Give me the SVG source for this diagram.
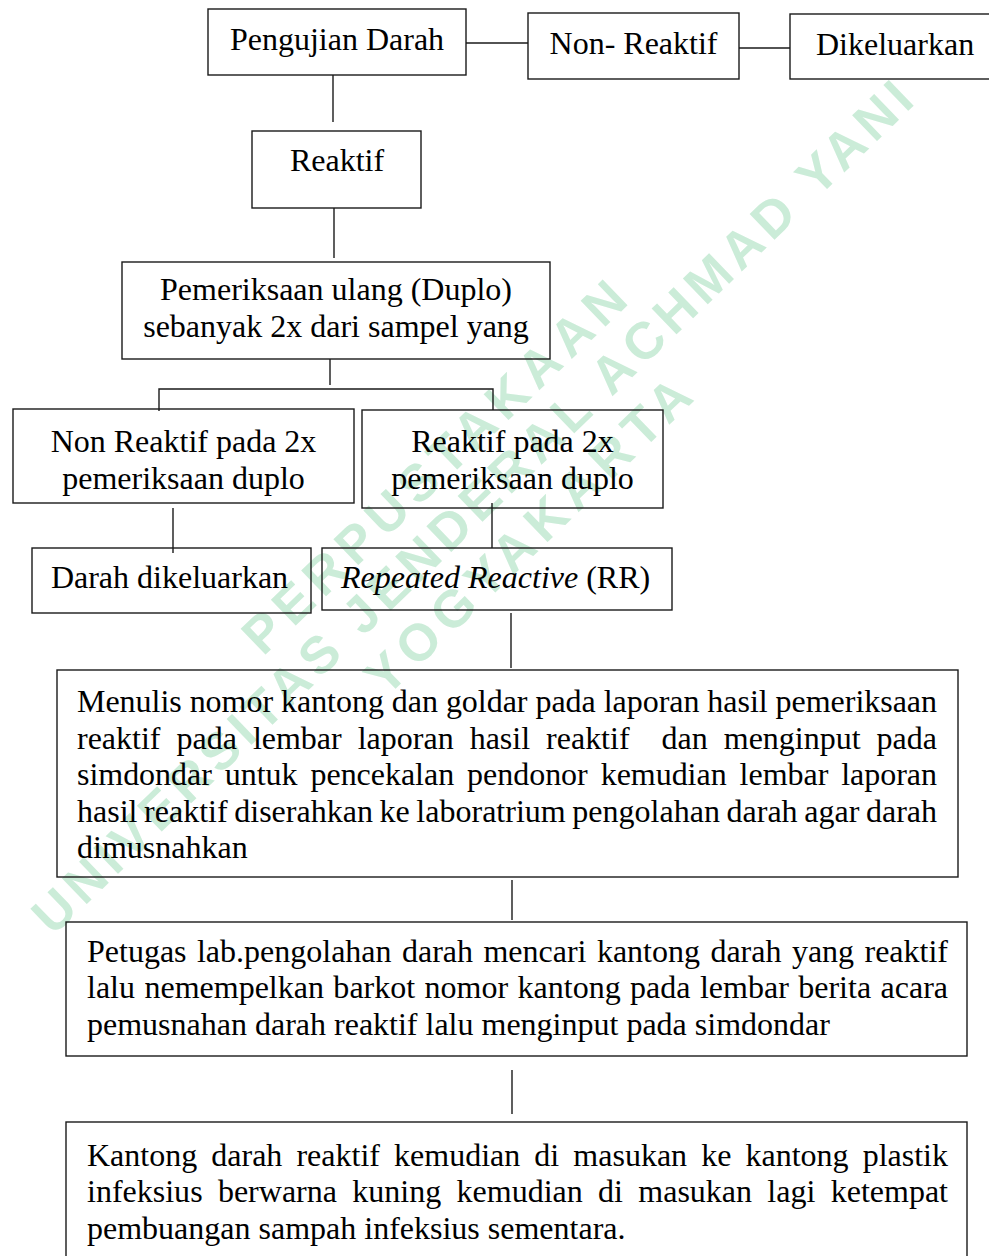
<svg xmlns="http://www.w3.org/2000/svg" width="989" height="1256" viewBox="0 0 989 1256">
<style>
.box{fill:none;stroke:#1a1a1a;stroke-width:1.4}
.t{font-family:"Liberation Serif","Times New Roman",serif;font-size:32px;fill:#000}
.c{text-anchor:middle}
.conn line,.conn polyline{stroke:#1a1a1a;stroke-width:1.4;fill:none}
.wm{font-family:"Liberation Sans",Arial,sans-serif;font-weight:bold;font-size:52px;fill:#cbecd8;text-anchor:middle}
</style>
<rect width="989" height="1256" fill="#fff"/>
<g id="watermark">
<text class="wm" x="434" y="485" transform="rotate(-44 434 467)" textLength="510">PERPUSTAKAAN</text>
<text class="wm" x="472" y="525" transform="rotate(-44 472 507)" textLength="1200">UNIVERSITAS JENDERAL ACHMAD YANI</text>
<text class="wm" x="528" y="554" transform="rotate(-44 528 536)" textLength="430">YOGYAKARTA</text>
</g>
<g id="connectors" class="conn">
<line x1="466" y1="43" x2="528" y2="43"/>
<line x1="739" y1="48" x2="790" y2="48"/>
<line x1="333" y1="75" x2="333" y2="122"/>
<line x1="334" y1="208" x2="334" y2="258"/>
<line x1="330" y1="359" x2="330" y2="385"/>
<polyline points="159,411 159,389 493,389 493,410"/>
<line x1="173" y1="508" x2="173" y2="553"/>
<line x1="492" y1="503" x2="492" y2="548"/>
<line x1="511" y1="613" x2="511" y2="668"/>
<line x1="512" y1="880" x2="512" y2="920"/>
<line x1="512" y1="1070" x2="512" y2="1114"/>
</g>
<g id="n1"><rect class="box" x="208" y="9" width="258" height="66"/><text class="t c" x="337" y="50">Pengujian Darah</text></g>
<g id="n2"><rect class="box" x="528" y="13" width="211" height="66"/><text class="t c" x="633.5" y="54">Non- Reaktif</text></g>
<g id="n3"><rect class="box" x="790" y="14" width="220" height="65"/><text class="t" x="816" y="55">Dikeluarkan</text></g>
<g id="n4"><rect class="box" x="252" y="131" width="169" height="77"/><text class="t c" x="337" y="171">Reaktif</text></g>
<g id="n5"><rect class="box" x="122" y="262" width="428" height="97"/><text class="t c" x="336" y="300">Pemeriksaan ulang (Duplo)</text><text class="t c" x="336" y="337">sebanyak 2x dari sampel yang</text></g>
<g id="n6"><rect class="box" x="13" y="409" width="341" height="94"/><text class="t c" x="183.5" y="452">Non Reaktif pada 2x</text><text class="t c" x="183.5" y="489">pemeriksaan duplo</text></g>
<g id="n7"><rect class="box" x="362" y="410" width="301" height="98"/><text class="t c" x="512.5" y="452">Reaktif pada 2x</text><text class="t c" x="512.5" y="489">pemeriksaan duplo</text></g>
<g id="n8"><rect class="box" x="32" y="548" width="279" height="65"/><text class="t c" x="169.5" y="588">Darah dikeluarkan</text></g>
<g id="n9"><rect class="box" x="322" y="548" width="350" height="62"/><text class="t" x="341" y="588"><tspan font-style="italic">Repeated Reactive</tspan> (RR)</text></g>
<g id="n10"><rect class="box" x="57" y="670" width="901" height="207"/>
<text class="t" x="77" y="712" textLength="860">Menulis nomor kantong dan goldar pada laporan hasil pemeriksaan</text>
<text class="t" x="77" y="748.5" word-spacing="8" textLength="860">reaktif pada lembar laporan hasil reaktif&#160; dan menginput pada</text>
<text class="t" x="77" y="785" word-spacing="5" textLength="860">simdondar untuk pencekalan pendonor kemudian lembar laporan</text>
<text class="t" x="77" y="821.5" word-spacing="-1.4" textLength="860">hasil reaktif diserahkan ke laboratrium pengolahan darah agar darah</text>
<text class="t" x="77" y="858">dimusnahkan</text>
</g>
<g id="n11"><rect class="box" x="66" y="922" width="901" height="134"/>
<text class="t" x="87" y="962" word-spacing="2.4" textLength="861">Petugas lab.pengolahan darah mencari kantong darah yang reaktif</text>
<text class="t" x="87" y="998" word-spacing="1.4" textLength="861">lalu nemempelkan barkot nomor kantong pada lembar berita acara</text>
<text class="t" x="87" y="1035">pemusnahan darah reaktif lalu menginput pada simdondar</text>
</g>
<g id="n12"><rect class="box" x="66" y="1122" width="901" height="200"/>
<text class="t" x="87" y="1166" word-spacing="6.1" textLength="861">Kantong darah reaktif kemudian di masukan ke kantong plastik</text>
<text class="t" x="87" y="1202" word-spacing="7.3" textLength="861">infeksius berwarna kuning kemudian di masukan lagi ketempat</text>
<text class="t" x="87" y="1239">pembuangan sampah infeksius sementara.</text>
</g>
</svg>
